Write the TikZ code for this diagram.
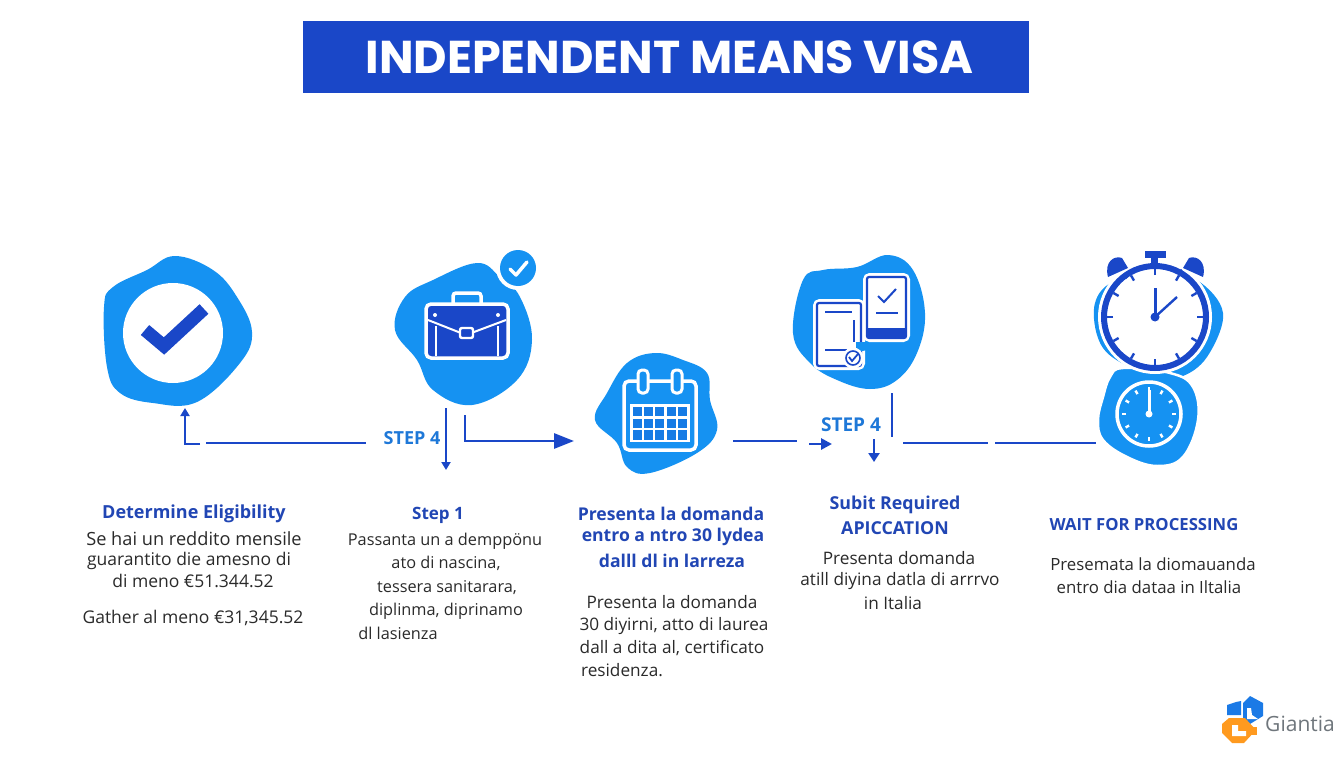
\documentclass[tikz,border=0pt]{standalone}
\usepackage{fontspec}
\setmainfont{Open Sans}
\newfontfamily\titlefont{Poppins}
\usetikzlibrary{arrows.meta,calc}
\definecolor{blobblue}{HTML}{1592F2}
\definecolor{deepblue}{HTML}{1A47C8}
\definecolor{headblue}{HTML}{2146B4}
\definecolor{stepblue}{HTML}{1E78D8}
\definecolor{bodyink}{HTML}{2A2A2A}
\definecolor{logogrey}{HTML}{6F767C}
\definecolor{logoorange}{HTML}{FF9A1F}
\definecolor{logoblue}{HTML}{1B7AE6}
\tikzset{
  blob/.style={fill=blobblue,draw=none},
  conn/.style={draw=deepblue,line width=2.8pt},
  tip/.style={conn,-{Triangle[length=8pt,width=9pt]}},
  bigtip/.style={conn,-{Triangle[length=20pt,width=15pt]}},
  head/.style={font=\fontsize{#1}{18}\selectfont\bfseries,text=headblue,inner sep=0pt,anchor=center},
  body/.style={font=\fontsize{#1}{18}\selectfont,text=bodyink,inner sep=0pt,anchor=center},
  steplabel/.style={font=\fontsize{#1}{18}\selectfont\bfseries,text=stepblue,inner sep=0pt},
  iconline/.style={draw=deepblue,line width=2.4pt},
  whiteline/.style={draw=white,line width=3.5pt}
}
\begin{document}
\begin{tikzpicture}[x=1pt,y=-1pt]
\useasboundingbox (0,0) rectangle (1344,768);
\fill[white] (0,0) rectangle (1344,768);

% title
\node[fill=deepblue,minimum width=726pt,minimum height=72pt,inner sep=0pt,font=\titlefont\fontsize{46}{48}\selectfont\bfseries,text=white] (title) at (666,57) {\kern7pt INDEPENDENT MEANS VISA};

% ---- icon 1
\path[blob] plot[smooth cycle,tension=0.65] coordinates {(175,256)(213,270)(237,297)(252,332)(240,363)(197,402)(153,403)(120,393)(107,367)(104,307)(113,287)(147,270)};
\fill[white] (173,333) circle (50);
\draw[draw=deepblue,line width=13pt,line join=miter] (145,330) -- (164,346) -- (204,309);

% ---- icon 2
\path[blob] plot[smooth cycle,tension=0.65] coordinates {(477,263)(500,277)(520,297)(532,340)(517,380)(472,405)(433,390)(417,360)(395,330)(405,297)(433,280)};
\fill[white] (518,268) circle (22);
\fill[blobblue] (518,268) circle (18);
\draw[white,line width=3.5pt,line join=round,line cap=round] (510,269) -- (516,275) -- (527,262);
\draw[whiteline,rounded corners=3pt] (453,303) -- (453,293) -- (481,293) -- (481,303);
\draw[whiteline,fill=deepblue,rounded corners=5pt] (426,304) rectangle (508,358);
\draw[white,line width=2pt] (428,320) -- (466,335) -- (506,320);
\draw[white,line width=2pt] (436,326) -- (436,356);
\draw[white,line width=2pt] (498,326) -- (498,356);
\fill[white] (435,315) circle (2) (498,315) circle (2);
\draw[white,fill=deepblue,line width=2.4pt,rounded corners=2pt] (460,328) rectangle (473,338);

% ---- icon 3
\path[blob] plot[smooth cycle,tension=0.65] coordinates {(655,353)(683,360)(707,373)(710,400)(717,430)(697,453)(650,473)(627,467)(617,443)(595,420)(607,393)(627,363)};
\draw[whiteline,rounded corners=5pt] (624,381) rectangle (696,450);
\foreach \rx in {643,677}{
  \draw[white,fill=blobblue,line width=3pt,rounded corners=4pt] (\rx-5,370) rectangle (\rx+5,393);
}
\fill[white] (630,404) rectangle (690,442);
\foreach \cx in {0,1,2,3,4}{
  \foreach \cy in {0,1,2}{
    \fill[blobblue!70!deepblue] (633+\cx*11.2,407+\cy*11.6) rectangle +(9,9.4);
  }
}

% ---- icon 4
\path[blob] plot[smooth cycle,tension=0.65] coordinates {(888,255)(913,270)(925,313)(917,353)(897,380)(870,389)(837,380)(810,363)(793,333)(803,280)(823,270)(857,267)};
\draw[draw=white,fill=white,line width=8pt,rounded corners=3pt] (867,277) rectangle (906,338);
\draw[draw=deepblue,line width=2.2pt,rounded corners=2pt] (867,277) rectangle (906,338);
\fill[deepblue] (867,328) rectangle (906,338);
\draw[iconline,line width=2pt] (878,296) -- (884,302) -- (896,289);
\draw[iconline,line width=2pt] (876,313) -- (898,313);
\draw[draw=white,fill=white,line width=8pt,rounded corners=3pt] (817,303) rectangle (861,366);
\draw[draw=deepblue,line width=2.2pt,rounded corners=2pt] (817,303) rectangle (861,366);
\draw[iconline,line width=2pt] (825,312) -- (852,312);
\draw[iconline,line width=2pt] (825,350) -- (847,350);
\draw[iconline,line width=2pt] (854,320) -- (854,342);
\fill[blobblue] (856,342) -- (868,342) -- (868,350) -- (856,352) -- cycle;
\draw[draw=white,fill=white,line width=3pt] (853,358) circle (9);
\draw[draw=deepblue,line width=1.6pt] (853,358) circle (7);
\draw[iconline,line width=1.8pt] (849,357) -- (852,361) -- (858,354);

% ---- icon 5
\path[blob] plot[smooth cycle,tension=0.6] coordinates {(1112,282)(1095,303)(1097,335)(1112,357)(1150,375)(1180,377)(1207,357)(1223,313)(1197,280)(1155,268)};
\path[blob,draw=white,line width=2.5pt] plot[smooth cycle,tension=0.65] coordinates {(1123,368)(1170,373)(1193,387)(1198,420)(1183,457)(1157,466)(1127,457)(1103,440)(1098,420)(1103,397)(1110,377)};
\fill[white] (1155,317) circle (57);
\fill[deepblue] (1145,251) rectangle (1166,258);
\fill[deepblue] (1151,258) rectangle (1158,268);
\draw[deepblue,line width=3pt] (1125,278) -- (1131,272);
\draw[deepblue,line width=3pt] (1180,270) -- (1188,279);
\fill[deepblue] (1108,277) .. controls (1104,262) and (1114,255) .. (1122,258) -- (1128,268) -- cycle;
\fill[deepblue] (1203,277) .. controls (1207,262) and (1197,255) .. (1189,258) -- (1183,268) -- cycle;
\draw[deepblue,line width=6pt] (1155,317) circle (51);
\foreach \a in {0,30,...,330}{
  \draw[deepblue,line width=2.4pt] ($(1155,317)+(\a:42)$) -- ($(1155,317)+(\a:48)$);
}
\draw[deepblue,line width=3pt] (1155,317) -- (1155,288);
\draw[deepblue,line width=2.4pt] (1155,317) -- (1177,297);
\fill[deepblue] (1155,317) circle (4.5);

\draw[white,line width=3.5pt] (1149,414) circle (32);
\foreach \a in {0,30,...,330}{
  \draw[white,line width=2.4pt] ($(1149,414)+(\a:23)$) -- ($(1149,414)+(\a:27)$);
}
\draw[white,line width=3pt] (1149,414) -- (1149,390);
\fill[white] (1149,414) circle (3.5);

% ---- connectors
\coordinate (a1) at (200,444); \coordinate (a2) at (185,444); \coordinate (a3) at (185,408);
\coordinate (b1) at (206,443); \coordinate (b2) at (366,443);
\coordinate (c1) at (446,408); \coordinate (c2) at (446,470);
\coordinate (d1) at (465,415); \coordinate (d2) at (465,441); \coordinate (d3) at (574,441);
\coordinate (e1) at (733,441); \coordinate (e2) at (797,441);
\coordinate (f1) at (809,444); \coordinate (f2) at (832,444);
\coordinate (g1) at (892,393); \coordinate (g2) at (892,437);
\coordinate (h1) at (874,439); \coordinate (h2) at (874,462);
\coordinate (i1) at (903,443); \coordinate (i2) at (988,443);
\coordinate (j1) at (995,443); \coordinate (j2) at (1096,443);
\draw[tip] (a1) -- (a2) -- (a3);
\draw[conn] (b1) -- (b2);
\draw[tip] (c1) -- (c2);
\draw[bigtip] (d1) -- (d2) -- (d3);
\draw[conn] (e1) -- (e2);
\draw[tip,-{Triangle[length=11pt,width=11pt]}] (f1) -- (f2);
\draw[conn] (g1) -- (g2);
\draw[tip,-{Triangle[length=9pt,width=11pt]}] (h1) -- (h2);
\draw[conn] (i1) -- (i2);
\draw[conn] (j1) -- (j2);

\node[steplabel=18] (s1) at (412,438) {STEP 4};
\node[steplabel=19] (s2) at (851,425) {STEP 4};

% ---- text column 1
\node[head=18] (t1) at (194,514) {Determine Eligibility};
\node[body=18.2] (t2) at (194,539) {Se hai un reddito mensile};
\node[body=17.5] (t3) at (189,561) {guarantito die amesno di};
\node[body=17.5] (t4) at (193,581) {di meno €51.344.52};
\node[body=17.5] (t5) at (193,618) {Gather al meno €31,345.52};
% column 2
\node[head=17] (u1) at (438,515) {Step 1};
\node[body=16.3] (u2) at (445,541) {Passanta un a demppönu};
\node[body=16.3] (u3) at (446,563) {ato di nascina,};
\node[body=16.3] (u4) at (447,588) {tessera sanitarara,};
\node[body=16.3] (u5) at (446,611) {diplinma, diprinamo};
\node[body=16.3] (u6) at (398,633) {dl lasienza};
% column 3
\node[head=17.6] (v1) at (671,514) {Presenta la domanda};
\node[head=17.6] (v2) at (673,537) {entro a ntro 30 lydea};
\node[head=17.6] (v3) at (672,561) {dalll dl in larreza};
\node[body=17.2] (v4) at (672,602) {Presenta la domanda};
\node[body=17.2] (v5) at (674,626) {30 diyirni, atto di laurea};
\node[body=17.2] (v6) at (672,648) {dall a dita al, certificato};
\node[body=17.2] (v7) at (622,670) {residenza.};
% column 4
\node[head=17.8] (w1) at (895,505) {Subit Required};
\node[head=17.8] (w2) at (895,528) {APICCATION};
\node[body=17.2] (w3) at (899,558) {Presenta domanda};
\node[body=17.2] (w4) at (900,581) {atill diyina datla di arrrvo};
\node[body=17.2] (w5) at (893,603) {in Italia};
% column 5
\node[head=16.7] (x1) at (1144,525) {WAIT FOR PROCESSING};
\node[body=16.8] (x2) at (1153,564) {Presemata la diomauanda};
\node[body=16.8] (x3) at (1149,587) {entro dia dataa in Iltalia};

% ---- logo
\fill[logoblue] (1227,705) -- (1236,702) -- (1241,701) -- (1241,715) -- (1227,715) -- cycle;
\fill[logoblue] (1250,696) -- (1263,703) -- (1263,716) -- (1250,724) -- (1243,720) -- (1243,703) -- cycle;
\fill[white] (1247,719) -- (1247,708) -- (1251,708) -- (1252,715) -- (1258,719) -- cycle;
\fill[logoorange] (1229,718) -- (1245,718) -- (1256,730) -- (1244,743) -- (1232,743) -- (1222,733) -- (1222,724) -- cycle;
\fill[white] (1232,725) -- (1238,725) -- (1238,731) -- (1246,731) -- (1246,736) -- (1232,736) -- cycle;
\fill[logoorange] (1248,727) rectangle (1257,735);
\node[font=\fontsize{21}{22}\selectfont,text=logogrey,inner sep=0pt] (logo) at (1300,724) {Giantia};
\end{tikzpicture}
\end{document}
